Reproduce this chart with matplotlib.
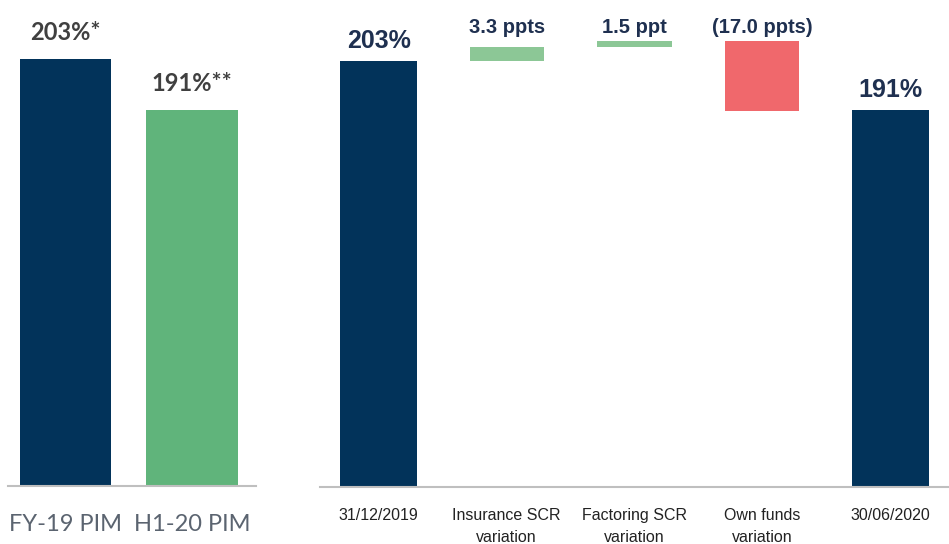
import matplotlib
matplotlib.use("Agg")
import matplotlib.pyplot as plt
from matplotlib import font_manager

# ---- data ----
left_cats = ["FY-19 PIM", "H1-20 PIM"]
left_vals = [203, 191]
left_labels = ["203%*", "191%**"]

wf_cats = ["31/12/2019", "Insurance SCR\nvariation", "Factoring SCR\nvariation",
           "Own funds\nvariation", "30/06/2020"]
start_val = 203.0
deltas = [3.3, 1.5, -17.0]
end_val = 191.0
delta_labels = ["3.3 ppts", "1.5 ppt", "(17.0 ppts)"]
total_labels = ["203%", "191%"]

# ---- fonts ----
names = {f.name for f in font_manager.fontManager.ttflist}
narrow = "Liberation Sans Narrow" if "Liberation Sans Narrow" in names else "Liberation Sans"
calib = "Lato" if "Lato" in names else "DejaVu Sans"

NAVY = "#02335a"
GREEN_L = "#60b47b"
GREEN_R = "#8cc796"
RED = "#f0686c"
AXIS = "#bfbfbf"

fig = plt.figure(figsize=(9.49, 5.44), dpi=100)
W, H = 949, 544

def add_ax(x0, x1, ybot):
    return fig.add_axes([x0 / W, 1 - ybot / H, (x1 - x0) / W, ybot / H])

# ---- left panel ----
axL = add_ax(8, 256, 486)
xl = list(range(len(left_vals)))
axL.bar(xl, left_vals, width=0.72, color=[NAVY, GREEN_L], bottom=0)
axL.set_xlim(-0.455, 1.506)
axL.set_ylim(102.5, 203 + 59 / 4.25)
for x, v, t in zip(xl, left_vals, left_labels):
    axL.annotate(t, (x, v), xytext=(0, 11), textcoords="offset points",
                 ha="center", va="bottom", fontsize=17, fontweight="bold",
                 color="#404040", family=calib)
axL.set_xticks(xl)
axL.set_xticklabels(left_cats, fontsize=17, color="#5b6470", family=calib)
axL.tick_params(axis="x", length=0, pad=20)
axL.set_yticks([])
for s in ["top", "left", "right"]:
    axL.spines[s].set_visible(False)
axL.spines["bottom"].set_color(AXIS)
axL.spines["bottom"].set_linewidth(1.5)
axL.patch.set_alpha(0)

# ---- right panel (waterfall) ----
axR = add_ax(320, 949, 487)
xr = list(range(len(wf_cats)))
axR.bar(xr[0], start_val, width=0.6, color=NAVY)
cum = start_val
tops = []
for i, d in enumerate(deltas):
    axR.bar(xr[i + 1], d, bottom=cum, width=0.58,
            color=GREEN_R if d > 0 else RED)
    cum += d
    tops.append(max(cum, cum - d))
axR.bar(xr[-1], end_val, width=0.6, color=NAVY)
axR.set_xlim(-0.46, 4.46)
axR.set_ylim(99, 203 + 61 / 4.1)

label_y = max(tops)
for i, t in enumerate(delta_labels):
    axR.annotate(t, (xr[i + 1], label_y), xytext=(0, 3), textcoords="offset points",
                 ha="center", va="bottom", fontsize=14.5, fontweight="bold",
                 color="#1f3050", family=narrow)
for x, v, t in zip([xr[0], xr[-1]], [start_val, end_val], total_labels):
    axR.annotate(t, (x, v), xytext=(0, 6), textcoords="offset points",
                 ha="center", va="bottom", fontsize=18, fontweight="bold",
                 color="#1f3050", family=narrow)

axR.set_xticks(xr)
axR.set_xticklabels(wf_cats, fontsize=11.5, color="#222222", family=narrow,
                    linespacing=1.6)
axR.tick_params(axis="x", length=0, pad=15)
axR.set_yticks([])
for s in ["top", "left", "right"]:
    axR.spines[s].set_visible(False)
axR.spines["bottom"].set_color(AXIS)
axR.spines["bottom"].set_linewidth(1.5)
axR.patch.set_alpha(0)

fig.savefig("out.png", dpi=100)
